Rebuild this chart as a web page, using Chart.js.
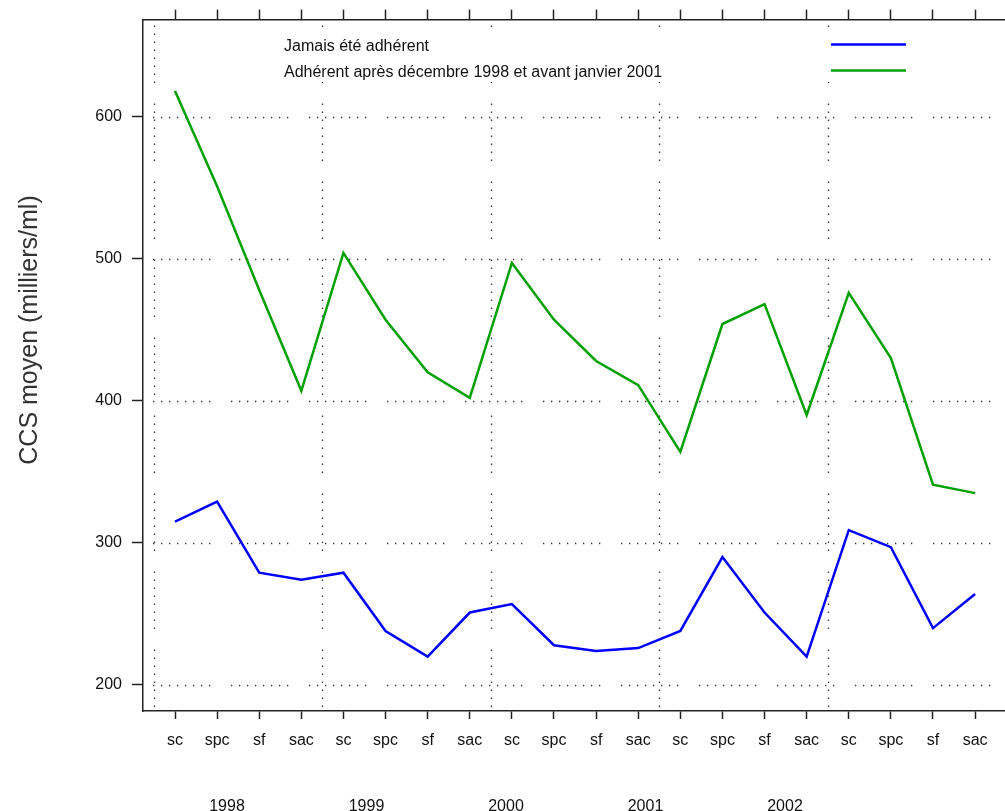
<!DOCTYPE html>
<html><head><meta charset="utf-8">
<script src="https://cdn.jsdelivr.net/npm/chart.js@4.4.1/dist/chart.umd.min.js"></script>
<style>html,body{margin:0;padding:0;background:#fff;overflow:hidden}canvas{display:block}</style>
</head><body>
<canvas id="c" width="1005" height="811"></canvas>
<script>
// ---- data ----
const seasons = ['sc', 'spc', 'sf', 'sac'];
const years = [1998, 1999, 2000, 2001, 2002];
const categories = years.flatMap(() => seasons);
const seriesNames = ['Jamais été adhérent', 'Adhérent après décembre 1998 et avant janvier 2001'];
const jamaisAdherent = [315, 329, 279, 274, 279, 238, 220, 251, 257, 228, 224, 226, 238, 290, 251, 220, 309, 297, 240, 264];
const adherent9801   = [618, 551, 478, 407, 504, 457, 420, 402, 497, 457, 428, 411, 364, 454, 468, 390, 476, 430, 341, 335];
const yTicks = [200, 300, 400, 500, 600];
const yTitle = 'CCS moyen (milliers/ml)';

const FAMILY = '"Liberation Sans", Arial, Helvetica, sans-serif';
Chart.defaults.font.family = FAMILY;
Chart.defaults.color = '#111';

const dottedGrid = {
  id: 'dottedGrid',
  beforeDatasetsDraw(chart) {
    const {ctx, chartArea: a, scales: {x, y}} = chart;
    ctx.save();
    ctx.strokeStyle = '#333';
    ctx.lineWidth = 1.3;
    const pat = [];
    for (let i = 0; i < 7; i++) pat.push(1.3, 6.7);
    pat.push(1.3, 20.7);
    ctx.setLineDash(pat);
    yTicks.forEach(v => {
      const py = Math.round(y.getPixelForValue(v)) + 0.5;
      ctx.beginPath(); ctx.moveTo(a.left + 10, py); ctx.lineTo(a.right, py); ctx.stroke();
    });
    for (let k = 0; k < years.length; k++) {
      const px = Math.round(x.getPixelForValue(k * seasons.length - 0.5)) + 0.5;
      ctx.beginPath(); ctx.moveTo(px, a.top + 6); ctx.lineTo(px, a.bottom - 4); ctx.stroke();
    }
    ctx.restore();
  }
};

const legendRows = {
  id: 'legendRows',
  afterDraw(chart) {
    const {ctx} = chart;
    ctx.save();
    ctx.fillStyle = '#fff';
    ctx.fillRect(272, 30, 648, 52);
    chart.data.datasets.forEach((ds, i) => {
      ctx.font = '16px ' + FAMILY;
      ctx.fillStyle = '#111';
      ctx.textBaseline = 'middle';
      ctx.textAlign = 'left';
      ctx.fillText(ds.label, 284, 47 + 26 * i);
      ctx.strokeStyle = ds.borderColor;
      ctx.lineWidth = 2.5;
      ctx.beginPath(); ctx.moveTo(831, 44.5 + 26 * i); ctx.lineTo(906, 44.5 + 26 * i); ctx.stroke();
    });
    ctx.restore();
  }
};

const axisTitle = {
  id: 'axisTitle',
  afterDraw(chart) {
    const {ctx} = chart;
    ctx.save();
    ctx.translate(30, 330);
    ctx.rotate(-Math.PI / 2);
    ctx.font = '25px ' + FAMILY;
    ctx.fillStyle = '#333';
    ctx.textAlign = 'center';
    ctx.textBaseline = 'middle';
    ctx.fillText(yTitle, 0, 0);
    ctx.restore();
  }
};

const toPts = arr => arr.map((v, i) => ({x: i, y: v}));

new Chart(document.getElementById('c'), {
  type: 'line',
  data: {
    datasets: [
      {label: seriesNames[0], data: toPts(jamaisAdherent), borderColor: '#0000ff', borderWidth: 2.5,
       pointRadius: 0, tension: 0, fill: false, xAxisID: 'x', yAxisID: 'y'},
      {label: seriesNames[1], data: toPts(adherent9801), borderColor: '#00a000', borderWidth: 2.5,
       pointRadius: 0, tension: 0, fill: false, xAxisID: 'x', yAxisID: 'y'}
    ]
  },
  options: {
    responsive: false, animation: false, devicePixelRatio: 1,
    layout: {padding: 0},
    plugins: {legend: {display: false}, tooltip: {enabled: false}},
    scales: {
      x: {
        type: 'linear', position: 'bottom', weight: 0, min: -0.76, max: 19.71,
        afterBuildTicks: s => { s.ticks = categories.map((_, i) => ({value: i})); },
        afterFit: s => { s.height = 40; },
        ticks: {callback: (v, i) => categories[i], font: {size: 16}, color: '#111', padding: 12,
                maxRotation: 0, autoSkip: false},
        grid: {drawOnChartArea: false, drawTicks: true, tickLength: 8, tickColor: '#222', tickWidth: 1.5},
        border: {display: true, color: '#222', width: 1.5}
      },
      years: {
        type: 'linear', position: 'bottom', weight: 1, min: 1997.398, max: 2003.577,
        afterBuildTicks: s => { s.ticks = years.map(v => ({value: v})); },
        afterFit: s => { s.height = 60; },
        ticks: {callback: (v, i) => String(years[i]), font: {size: 16}, color: '#111', padding: 46,
                maxRotation: 0, autoSkip: false},
        grid: {display: false, drawTicks: false},
        border: {display: false}
      },
      xTop: {
        type: 'linear', position: 'top', min: -0.76, max: 19.71,
        afterBuildTicks: s => { s.ticks = categories.map((_, i) => ({value: i})); },
        afterFit: s => { s.height = 19; },
        ticks: {display: false},
        grid: {drawOnChartArea: false, drawTicks: true, tickLength: 10, tickColor: '#222', tickWidth: 1.5},
        border: {display: true, color: '#222', width: 1.5}
      },
      y: {
        type: 'linear', position: 'left', min: 181.7, max: 668.2,
        afterBuildTicks: s => { s.ticks = yTicks.map(v => ({value: v})); },
        afterFit: s => { s.width = 143; },
        ticks: {font: {size: 16}, color: '#111', padding: 10},
        grid: {drawOnChartArea: false, drawTicks: true, tickLength: 11, tickColor: '#222', tickWidth: 1.5},
        border: {display: true, color: '#222', width: 1.5}
      }
    }
  },
  plugins: [dottedGrid, legendRows, axisTitle]
});
</script>
</body></html>
